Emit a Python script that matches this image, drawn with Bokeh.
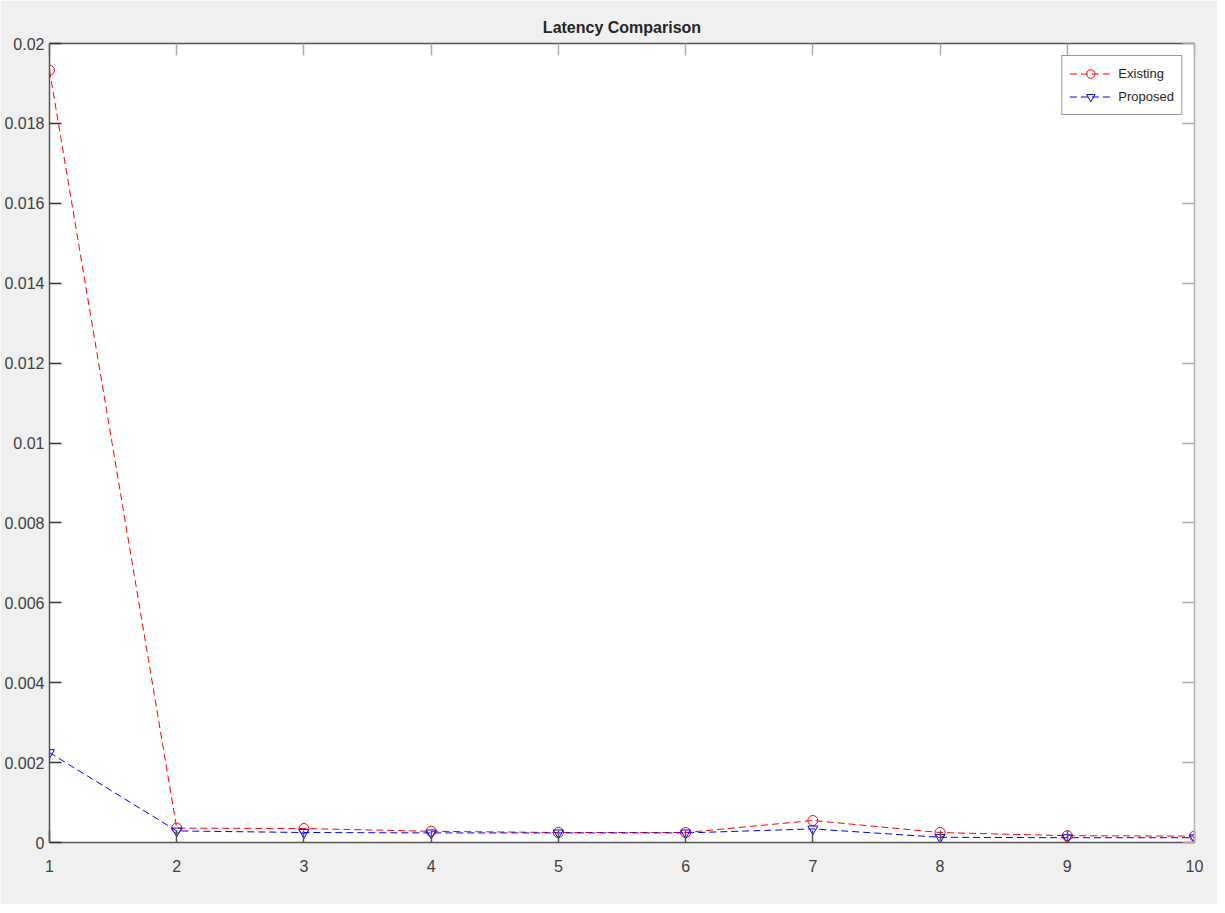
from bokeh.plotting import figure
from bokeh.models import (LinearAxis, FixedTicker, CustomJSTickFormatter, Range1d,
                          Legend, LegendItem)
from bokeh.embed import file_html
from bokeh.resources import INLINE

x_vals = [1, 2, 3, 4, 5, 6, 7, 8, 9, 10]
existing = [0.01933, 0.00036, 0.00035, 0.00028, 0.00025, 0.00025, 0.00055, 0.00025, 0.00017, 0.00016]
proposed = [0.00225, 0.00029, 0.00025, 0.00024, 0.00024, 0.00024, 0.00034, 0.00013, 0.00012, 0.00012]
y_ticks = [0, 0.002, 0.004, 0.006, 0.008, 0.01, 0.012, 0.014, 0.016, 0.018, 0.02]
x_ticks = [1, 2, 3, 4, 5, 6, 7, 8, 9, 10]
title_text = "Latency Comparison"
series_names = ["Existing", "Proposed"]

FONT = "Liberation Sans"

p = figure(width=1217, height=904,
           x_range=Range1d(1, 10), y_range=Range1d(0, 0.02),
           output_backend="svg", toolbar_location=None,
           background_fill_color="white", border_fill_color="#f0f0f0",
           min_border_left=49, min_border_right=23, min_border_top=43, min_border_bottom=62,
           x_axis_type=None, y_axis_type=None)
p.outline_line_color = None
p.grid.visible = False

p.title.text = title_text
p.title.align = "center"
p.title.text_font = FONT
p.title.text_font_size = "16px"
p.title.text_font_style = "bold"
p.title.text_color = "#262626"
p.title.standoff = 15

fmt_num = CustomJSTickFormatter(code="""
var s = tick.toFixed(3);
s = s.replace(/0+$/, '').replace(/\\.$/, '');
return s;
""")
fmt_none = CustomJSTickFormatter(code="return '';")

def style_axis(ax, line_color, tick_color, labels=True):
    ax.axis_line_color = line_color
    ax.axis_line_width = 1.5
    ax.major_tick_in = 12
    ax.major_tick_out = 0
    ax.major_tick_line_color = tick_color
    ax.major_tick_line_width = 1.5
    ax.minor_tick_line_color = None
    ax.major_label_text_font = FONT
    ax.major_label_text_font_size = "16px"
    ax.major_label_text_color = "#404040"
    if not labels:
        ax.major_label_standoff = 0
        ax.major_label_text_font_size = "1px"

bottom = LinearAxis(ticker=FixedTicker(ticks=x_ticks), formatter=fmt_num)
style_axis(bottom, "#555555", "#555555")
bottom.major_label_standoff = 17
p.add_layout(bottom, "below")

left = LinearAxis(ticker=FixedTicker(ticks=y_ticks), formatter=fmt_num)
style_axis(left, "#555555", "#333333")
left.major_label_standoff = 5
p.add_layout(left, "left")

top = LinearAxis(ticker=FixedTicker(ticks=x_ticks), formatter=fmt_none)
style_axis(top, "#555555", "#aaaaaa", labels=False)
p.add_layout(top, "above")

right = LinearAxis(ticker=FixedTicker(ticks=y_ticks), formatter=fmt_none)
style_axis(right, "#b5b5b5", "#aaaaaa", labels=False)
p.add_layout(right, "right")

l1 = p.line(x_vals, existing, line_color="red", line_dash="7 4", line_width=1)
m1 = p.scatter(x_vals, existing, marker="circle", size=10, line_color="red",
               fill_color=None, line_width=1)
l2 = p.line(x_vals, proposed, line_color="blue", line_dash="7 4", line_width=1)
m2 = p.scatter(x_vals, proposed, marker="inverted_triangle", size=10, line_color="blue",
               fill_color=None, line_width=1)

legend = Legend(items=[LegendItem(label=series_names[0], renderers=[l1, m1]),
                       LegendItem(label=series_names[1], renderers=[l2, m2])],
                location="top_right", margin=12)
legend.label_text_font = FONT
legend.label_text_font_size = "13px"
legend.label_text_color = "#262626"
legend.glyph_width = 42
legend.glyph_height = 21
legend.label_height = 21
legend.label_standoff = 7
legend.spacing = 2
legend.padding = 7
legend.border_line_color = "#333333"
legend.border_line_width = 1
legend.background_fill_color = "white"
legend.background_fill_alpha = 1
p.add_layout(legend)

open("out.html", "w").write(file_html(p, INLINE))
